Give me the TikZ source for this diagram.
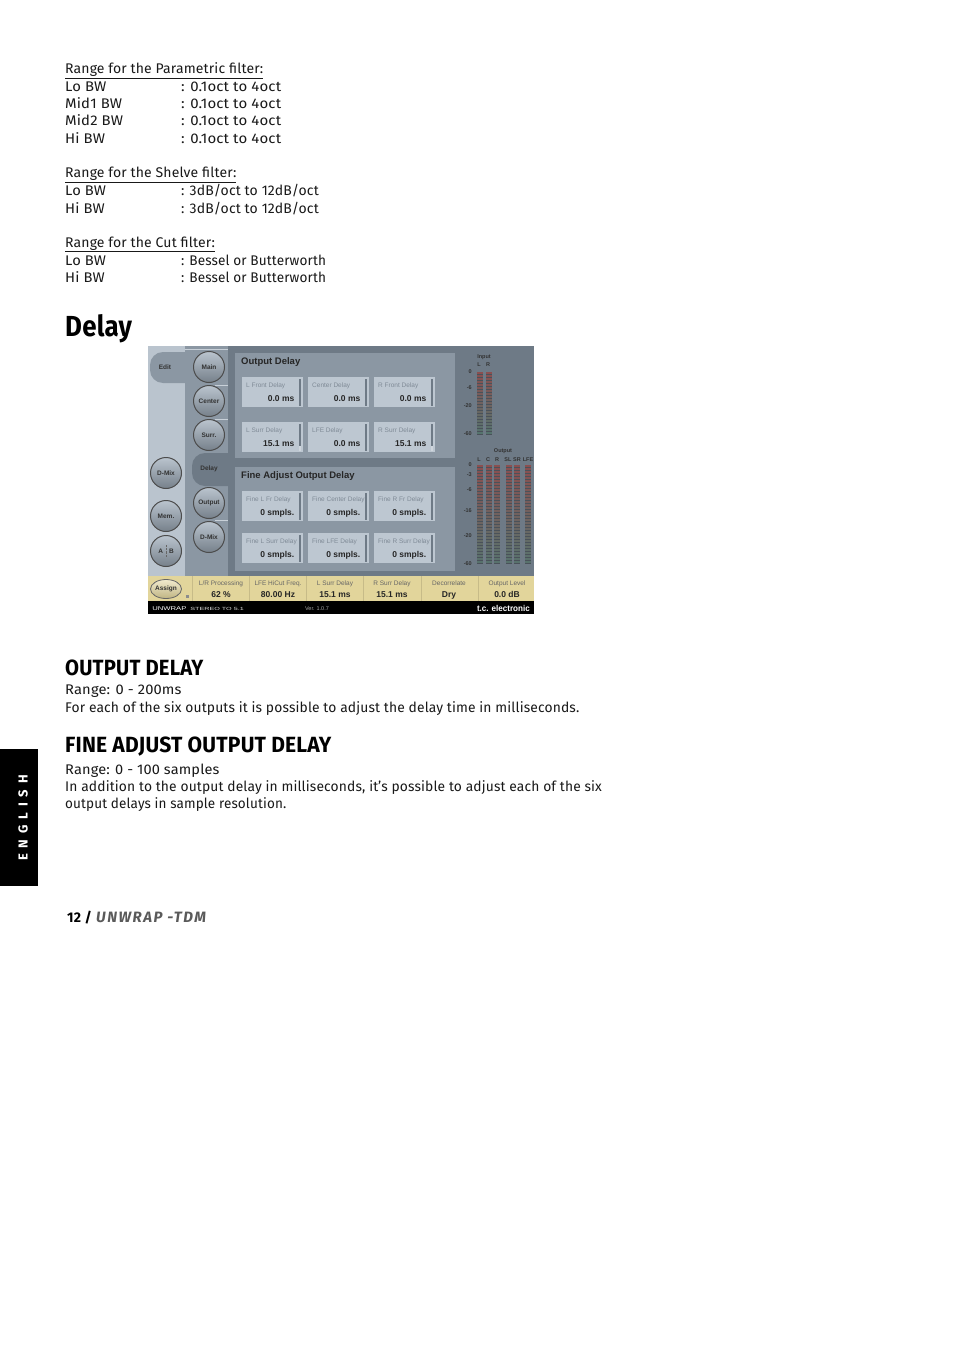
\documentclass[tikz,border=0pt]{standalone}
\usepackage{fontspec}
\setmainfont{Fira Sans}[LetterSpace=1]
\newfontfamily\uifont{Liberation Sans}
\usetikzlibrary{positioning,calc,shapes.geometric}

\definecolor{paneldark}{HTML}{6E7A86}
\definecolor{panelmid}{HTML}{8B97A3}
\definecolor{panellight}{HTML}{BAC4CE}
\definecolor{boxlight}{HTML}{BDC7D1}
\definecolor{strip}{HTML}{E2D59B}
\definecolor{uitext}{HTML}{7F8A96}
\definecolor{footgray}{HTML}{5A5A5A}
\definecolor{meterhot}{HTML}{8A4F50}
\definecolor{metercold}{HTML}{56746E}
\definecolor{metergap}{HTML}{4A525A}

\tikzset{
  body/.style={anchor=base west,inner sep=0pt,font=\fontsize{14}{14}\selectfont,text=black!90},
  head/.style={anchor=base west,inner sep=0pt,font=\fontsize{22}{22}\selectfont\bfseries,xscale=0.92},
  knob/.style={circle,draw=black!70,line width=1pt,minimum size=31pt,inner sep=0pt,top color=panellight,bottom color=panelmid!85!black,font=\uifont\fontsize{6.5}{6.5}\selectfont\bfseries,text=black!80},
  tabtext/.style={inner sep=0pt,font=\uifont\fontsize{6.5}{6.5}\selectfont\bfseries,text=black!80},
  paneltitle/.style={anchor=base west,inner sep=0pt,font=\uifont\fontsize{9.5}{9.5}\selectfont\bfseries,text=black!85},
  boxname/.style={anchor=base west,inner sep=0pt,font=\uifont\fontsize{6.5}{6.5}\selectfont,text=uitext},
  boxvalue/.style={anchor=base east,inner sep=0pt,font=\uifont\fontsize{8.5}{8.5}\selectfont\bfseries,text=black!85},
  stripname/.style={anchor=base,inner sep=0pt,font=\uifont\fontsize{6.5}{6.5}\selectfont,text=black!60},
  stripvalue/.style={anchor=base,inner sep=0pt,font=\uifont\fontsize{8.5}{8.5}\selectfont\bfseries,text=black!85},
  meterlabel/.style={inner sep=0pt,font=\uifont\fontsize{5.5}{5.5}\selectfont\bfseries,text=black!80}
}

\begin{document}
\begin{tikzpicture}[x=1pt,y=-1pt]
\useasboundingbox [fill=white] (0,0) rectangle (954,1351);

% --------
\node [body] (partitle) at (65,74) {\underline{Range for the Parametric filter:}};
\foreach \name/\ypos in {Lo BW/92,Mid1 BW/109,Mid2 BW/126,Hi BW/144} {
  \node [body,xscale=1.06] at (65,\ypos) {\name};
  \node [body,xscale=1.07] at (181,\ypos) {: 0.1oct to 4oct};
}
\node [body] (sheltitle) at (65,178) {\underline{Range for the Shelve filter:}};
\foreach \name/\ypos in {Lo BW/196,Hi BW/213} {
  \node [body,xscale=1.05] at (65,\ypos) {\name};
  \node [body] at (181,\ypos) {: 3dB/oct to 12dB/oct};
}
\node [body] (cuttitle) at (65,247) {\underline{Range for the Cut filter:}};
\foreach \name/\ypos in {Lo BW/265,Hi BW/282} {
  \node [body,xscale=1.05] at (65,\ypos) {\name};
  \node [body,xscale=0.97] at (181,\ypos) {: Bessel or Butterworth};
}

\node [head,font=\fontsize{29}{29}\selectfont\bfseries,xscale=0.97] (delayhead) at (65,336) {Delay};

% -------- plug-in window
\fill [paneldark] (148,346) rectangle (534,601);
\fill [panellight] (148,346) rectangle (185,576);
\fill [panelmid] (185,346) rectangle (228,576);
\fill [panelmid, rounded corners=13pt] (150,352) rectangle (200,383);
\draw [panellight!80!white, thin] (185,349) -- (228,349);
\fill [paneldark, rounded corners=13pt] (192,453) rectangle (245,486);
\fill [paneldark] (215,453) rectangle (235,486);
\foreach \ypos in {385,419,520} {
  \draw [panellight!80!white, thin] (215,\ypos) -- (228,\ypos);
}
\node [tabtext] (edit) at (165,367) {Edit};
\node [tabtext] (delaytab) at (209,469) {Delay};

\node [knob] (main) at (209,367) {Main};
\node [knob] (center) at (209,401) {Center};
\node [knob] (surr) at (209,435) {Surr.};
\node [knob] (output) at (209,503) {Output};
\node [knob] (dmixb) at (209,537) {D-Mix};
\node [knob] (dmixa) at (166,473) {D-Mix};
\node [knob] (mem) at (166,516) {Mem.};
\node [knob] (ab) at (166,551) {A\hspace{6pt}B};
\draw [densely dotted,black!60] (166,545) -- (166,557);

% --------
\fill [panelmid] (235,353) rectangle (455,458);
\fill [panelmid] (235,467) rectangle (455,571);
\node [paneltitle] (outtitle) at (241,364) {Output Delay};
\node [paneltitle] (finetitle) at (241,478.5) {Fine Adjust Output Delay};

\foreach \xpos/\ypos/\name/\val in {
  242/377/L Front Delay/0.0 ms, 308/377/Center Delay/0.0 ms, 374/377/R Front Delay/0.0 ms,
  242/422/L Surr Delay/15.1 ms, 308/422/LFE Delay/0.0 ms, 374/422/R Surr Delay/15.1 ms,
  242/491/Fine L Fr Delay/0 smpls., 308/491/Fine Center Delay/0 smpls., 374/491/Fine R Fr Delay/0 smpls.,
  242/533/Fine L Surr Delay/0 smpls., 308/533/Fine LFE Delay/0 smpls., 374/533/Fine R Surr Delay/0 smpls.} {
  \fill [boxlight] (\xpos,\ypos) rectangle ++(60.5,30);
  \fill [paneldark] (\xpos+56.5,\ypos+1.5) rectangle ++(2.5,27);
  \node [boxname] at (\xpos+4,\ypos+10) {\name};
  \node [boxvalue] at (\xpos+52.5,\ypos+24) {\val};
}
\foreach \xpos in {298.5,430.5} {
  \fill [panellight!70!white] (\xpos,446) rectangle ++(2.5,4.5);
}

% -------- meters
\foreach \xpos in {477,486} {
  \fill [metergap] (\xpos,372) rectangle ++(6,63);
  \foreach \n in {0,...,20} {
    \pgfmathtruncatemacro{\mix}{100-\n*5}
    \fill [meterhot!\mix!metercold] (\xpos,372+\n*3) rectangle ++(6,2);
  }
}
\foreach \xpos in {477,486,494,506,514,525} {
  \fill [metergap] (\xpos,465) rectangle ++(6,99);
  \foreach \n in {0,...,32} {
    \pgfmathtruncatemacro{\mix}{100-\n*3}
    \fill [meterhot!\mix!metercold] (\xpos,465+\n*3) rectangle ++(6,2);
  }
}
\node [meterlabel] (inlabel) at (484,357) {Input};
\node [meterlabel] (inl) at (479,365) {L};
\node [meterlabel] (inr) at (488,365) {R};
\foreach \val/\ypos in {0/372,-6/388,-20/406,-60/434} {
  \node [meterlabel,anchor=east] at (472,\ypos) {\val};
}
\node [meterlabel] (outlabel) at (503,451) {Output};
\foreach \val/\xpos in {L/479,C/488,R/497,SL/508,SR/517,LFE/528} {
  \node [meterlabel] at (\xpos,460) {\val};
}
\foreach \val/\ypos in {0/465,-3/475,-6/490,-16/511,-20/536,-60/564} {
  \node [meterlabel,anchor=east] at (472,\ypos) {\val};
}

% -------- bottom strip
\fill [strip] (148,576) rectangle (534,601);
\foreach \xpos in {192,249,306,363,421,478} {
  \draw [strip!88!black,thin] (\xpos,576) -- (\xpos,601);
}
\node [ellipse,draw=black!60,line width=0.8pt,minimum width=31pt,minimum height=19pt,inner sep=0pt,top color=strip!50!white,bottom color=strip!85!black,font=\uifont\fontsize{6.5}{6.5}\selectfont\bfseries,text=black!80] (assign) at (166,589) {Assign};
\fill [black!45] (185.5,595) rectangle ++(3,2.5);
\node [stripname] at (221,585) {L/R Processing};
\node [stripvalue] at (221,597) {62 \%};
\node [stripname] at (278,585) {LFE HiCut Freq.};
\node [stripvalue] at (278,597) {80.00 Hz};
\node [stripname] at (335,585) {L Surr Delay};
\node [stripvalue] at (335,597) {15.1 ms};
\node [stripname] at (392,585) {R Surr Delay};
\node [stripvalue] at (392,597) {15.1 ms};
\node [stripname] at (449,585) {Decorrelate};
\node [stripvalue] at (449,597) {Dry};
\node [stripname] at (507,585) {Output Level};
\node [stripvalue] at (507,597) {0.0 dB};

\fill [black] (148,601) rectangle (534,614);
\node [anchor=base west,inner sep=0pt,text=white,xscale=1.4,font=\uifont\fontsize{5.5}{5.5}\selectfont] (unwrap) at (152,610) {UNWRAP};
\node [anchor=base west,inner sep=0pt,text=black!15,xscale=1.6,font=\uifont\fontsize{4.5}{4.5}\selectfont] (stereo) at (190,610) {STEREO TO 5.1};
\node [anchor=base,inner sep=0pt,text=black!35,font=\uifont\fontsize{5.5}{5.5}\selectfont] (ver) at (317,610) {Ver. 1.0.7};
\node [anchor=base east,inner sep=0pt,text=white,xscale=0.95,font=\uifont\fontsize{8.5}{8.5}\selectfont\bfseries] (tc) at (530,611) {t.c. electronic};

% --------
\node [head] (outhead) at (65,675) {OUTPUT DELAY};
\node [body,xscale=1.05] at (65,694) {Range: 0 - 200ms};
\node [body,xscale=0.988] at (65,712) {For each of the six outputs it is possible to adjust the delay time in milliseconds.};
\node [head,xscale=1.04] (finehead) at (65,752) {FINE ADJUST OUTPUT DELAY};
\node [body,xscale=1.04] at (65,774) {Range: 0 - 100 samples};
\node [body,xscale=0.987] at (65,791) {In addition to the output delay in milliseconds, it's possible to adjust each of the six};
\node [body,xscale=0.965] at (65,808) {output delays in sample resolution.};

% --------
\fill [black] (0,749) rectangle (38,886);
\node [rotate=90,inner sep=0pt,text=white,font=\fontsize{13}{13}\selectfont\bfseries\addfontfeature{LetterSpace=45}] (english) at (23,818) {ENGLISH};

\node [anchor=base west,inner sep=0pt,font=\fontsize{14}{14}\selectfont\bfseries] (pagenum) at (67,922) {12 /};
\node [anchor=base west,inner sep=0pt,text=footgray,font=\fontsize{15}{15}\selectfont\bfseries\itshape\addfontfeature{LetterSpace=10}] (footer) at (96,922) {UNWRAP -TDM};

\end{tikzpicture}
\end{document}
